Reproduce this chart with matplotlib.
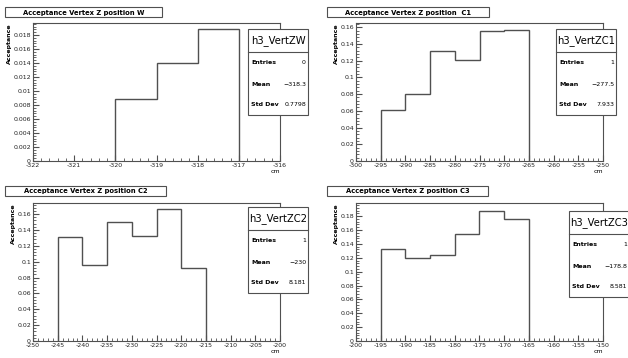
import numpy as np
import matplotlib
matplotlib.use('Agg')
import matplotlib.pyplot as plt
from matplotlib.ticker import MultipleLocator, AutoMinorLocator, FuncFormatter

# histogram data
edges_w = [-320, -319, -318, -317]
acc_w = [0.0089, 0.0140, 0.0189]

edges_c1 = [-295, -290, -285, -280, -275, -270, -265]
acc_c1 = [0.061, 0.080, 0.132, 0.121, 0.155, 0.157]

edges_c2 = [-245, -240, -235, -230, -225, -220, -215]
acc_c2 = [0.131, 0.096, 0.150, 0.133, 0.166, 0.092]

edges_c3 = [-195, -190, -185, -180, -175, -170, -165]
acc_c3 = [0.133, 0.120, 0.124, 0.154, 0.188, 0.176]

titles = ["Acceptance Vertex Z position W", "Acceptance Vertex Z position  C1",
          "Acceptance Vertex Z position C2", "Acceptance Vertex Z position C3"]
names = ["h3_VertZW", "h3_VertZC1", "h3_VertZC2", "h3_VertZC3"]
entries = ["0", "1", "1", "1"]
means = ["-318.3", "-277.5", "-230", "-178.8"]
stds = ["0.7798", "7.933", "8.181", "8.581"]

xlims = [(-322, -316), (-300, -250), (-250, -200), (-200, -150)]
xmajor = [1, 5, 5, 5]
ylims = [0.0197, 0.165, 0.174, 0.199]
ymajor = [0.002, 0.02, 0.02, 0.02]

W, H = 628, 358
lc = '#505050'

# pixel layout (left, top) of each panel
axpos = [(33, 23), (356, 23), (33, 203), (356, 203)]
titlepos = [(5, 7, 157), (327, 7, 162), (5, 186, 161), (327, 186, 161)]
statpos = [(248, 29), (556, 29), (248, 207), (569, 211)]
axw, axh = 247, 138

fig = plt.figure(figsize=(W/100, H/100), dpi=100)

data = [(edges_w, acc_w), (edges_c1, acc_c1), (edges_c2, acc_c2), (edges_c3, acc_c3)]
fmt = FuncFormatter(lambda v, p: '%g' % round(v, 6))

for i in range(4):
    x0, y0 = axpos[i]
    ax = fig.add_axes([x0/W, 1 - (y0+axh)/H, axw/W, axh/H])
    edges, vals = data[i]
    ax.stairs(vals, edges, color=lc, lw=1.0, baseline=0)
    ax.set_xlim(*xlims[i])
    ax.set_ylim(0, ylims[i])
    ax.xaxis.set_major_locator(MultipleLocator(xmajor[i]))
    ax.xaxis.set_minor_locator(AutoMinorLocator(5))
    ax.yaxis.set_major_locator(MultipleLocator(ymajor[i]))
    ax.yaxis.set_minor_locator(AutoMinorLocator(5))
    ax.xaxis.set_major_formatter(fmt)
    ax.yaxis.set_major_formatter(fmt)
    ax.tick_params(which='both', direction='in', labelsize=4.5, colors='#222222',
                   top=False, right=False, pad=1.5)
    ax.tick_params(which='major', length=4, color=lc)
    ax.tick_params(which='minor', length=2, color=lc)
    for s in ax.spines.values():
        s.set_color(lc)
        s.set_linewidth(0.8)
    ax.set_ylabel("Acceptance", fontsize=4.5, fontweight='bold', loc='top', labelpad=1)
    ax.set_xlabel("cm", fontsize=4.5, loc='right', labelpad=1)

    # title box
    tx, ty, tw = titlepos[i]
    rect = plt.Rectangle((tx/W, 1 - (ty+10)/H), tw/W, 10/H, transform=fig.transFigure,
                         fc='white', ec=lc, lw=0.8, zorder=1)
    fig.add_artist(rect)
    fig.text((tx + tw/2)/W, 1 - (ty + 5.5)/H, titles[i], fontsize=4.9, fontweight='bold',
             ha='center', va='center', zorder=2)

    # stats box
    sx, sy = statpos[i]
    sw, sh = 60, 86
    box = plt.Rectangle((sx/W, 1 - (sy+sh)/H), sw/W, sh/H, transform=fig.transFigure,
                        fc='white', ec=lc, lw=0.8, zorder=3)
    fig.add_artist(box)
    fig.add_artist(plt.Line2D([sx/W, (sx+sw)/W], [1 - (sy+23)/H]*2,
                              transform=fig.transFigure, color=lc, lw=0.8, zorder=4))
    fig.text((sx + sw/2)/W, 1 - (sy + 11.5)/H, names[i], fontsize=7.2,
             ha='center', va='center', zorder=5)
    rows = [("Entries", entries[i]), ("Mean", means[i]), ("Std Dev", stds[i])]
    for k, (lab, val) in enumerate(rows):
        yy = 1 - (sy + 34 + k*21)/H
        fig.text((sx + 3)/W, yy, lab, fontsize=4.5, fontweight='bold', ha='left',
                 va='center', zorder=5)
        fig.text((sx + sw - 2)/W, yy, val.replace('-', '\u2212'), fontsize=4.5,
                 ha='right', va='center', zorder=5)

fig.savefig('out.png', dpi=100)
